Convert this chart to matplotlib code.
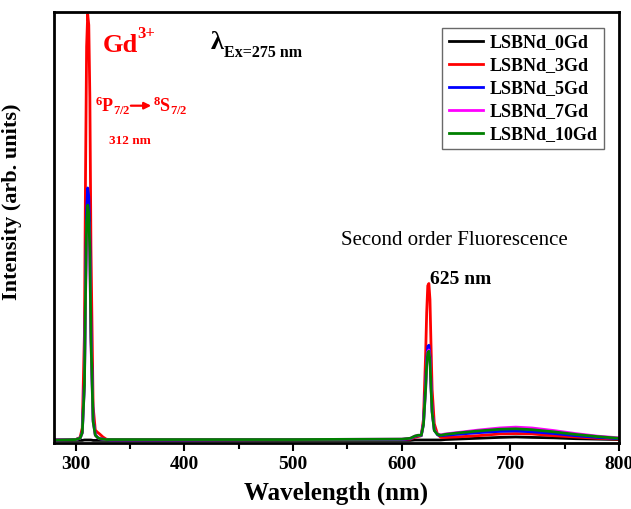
import matplotlib
matplotlib.use("Agg")
import matplotlib.pyplot as plt
from matplotlib.ticker import MultipleLocator

plt.rcParams["font.family"] = ["Liberation Serif", "DejaVu Serif"]
plt.rcParams["font.weight"] = "bold"
plt.rcParams["mathtext.fontset"] = "custom"
plt.rcParams["mathtext.rm"] = "Liberation Serif:bold"
plt.rcParams["mathtext.it"] = "Liberation Serif:bold"
plt.rcParams["mathtext.bf"] = "Liberation Serif:bold"

# wavelength grid (nm)
wavelength = [280, 300, 304, 306, 308, 309, 310, 311, 312, 313, 314, 316, 318, 320,
              322, 325, 328, 332, 400, 500, 600, 608, 612, 615, 618, 620, 622, 623,
              624, 625, 626, 627, 628, 630, 633, 636, 640, 650, 670, 690, 705, 720,
              740, 760, 780, 800]

gd0 = [0.001, 0.001, 0.001, 0.001, 0.002, 0.002, 0.002, 0.002, 0.002, 0.002, 0.002,
       0.001, 0.001, 0.001, 0.001, 0.001, 0.001, 0.001, 0.001, 0.001, 0.001, 0.001,
       0.002, 0.002, 0.002, 0.002, 0.002, 0.002, 0.002, 0.002, 0.002, 0.002, 0.002,
       0.002, 0.002, 0.002, 0.003, 0.004, 0.006, 0.008, 0.009, 0.008, 0.007, 0.005,
       0.004, 0.003]
gd3 = [0.002, 0.003, 0.008, 0.03, 0.25, 0.62, 0.92, 0.995, 0.97, 0.8, 0.45, 0.08,
       0.025, 0.02, 0.016, 0.009, 0.004, 0.002, 0.002, 0.003, 0.003, 0.004, 0.008,
       0.01, 0.012, 0.05, 0.2, 0.3, 0.362, 0.367, 0.33, 0.22, 0.12, 0.04, 0.015,
       0.008, 0.008, 0.009, 0.012, 0.016, 0.017, 0.016, 0.012, 0.009, 0.006, 0.004]
gd5 = [0.002, 0.003, 0.006, 0.02, 0.14, 0.36, 0.54, 0.59, 0.57, 0.47, 0.26, 0.05,
       0.015, 0.008, 0.005, 0.004, 0.003, 0.002, 0.002, 0.003, 0.003, 0.005, 0.01,
       0.012, 0.012, 0.04, 0.13, 0.19, 0.22, 0.223, 0.2, 0.13, 0.07, 0.025, 0.014,
       0.012, 0.013, 0.015, 0.019, 0.022, 0.023, 0.021, 0.017, 0.012, 0.008, 0.005]
gd7 = [0.003, 0.003, 0.006, 0.018, 0.13, 0.33, 0.49, 0.53, 0.51, 0.42, 0.23, 0.045,
       0.013, 0.008, 0.005, 0.004, 0.003, 0.003, 0.003, 0.003, 0.004, 0.006, 0.011,
       0.013, 0.013, 0.038, 0.12, 0.18, 0.208, 0.212, 0.19, 0.125, 0.068, 0.025,
       0.016, 0.014, 0.016, 0.019, 0.025, 0.03, 0.032, 0.03, 0.024, 0.017, 0.011,
       0.007]
gd10 = [0.002, 0.003, 0.006, 0.019, 0.13, 0.34, 0.51, 0.55, 0.53, 0.44, 0.24, 0.045,
        0.013, 0.008, 0.005, 0.004, 0.003, 0.003, 0.003, 0.003, 0.004, 0.006, 0.011,
        0.013, 0.013, 0.037, 0.12, 0.178, 0.205, 0.209, 0.188, 0.123, 0.066, 0.024,
        0.015, 0.013, 0.015, 0.018, 0.023, 0.027, 0.028, 0.026, 0.021, 0.015, 0.01,
        0.006]

labels = ["LSBNd_0Gd", "LSBNd_3Gd", "LSBNd_5Gd", "LSBNd_7Gd", "LSBNd_10Gd"]
colors = ["black", "#ff0000", "#0000ff", "#ff00ff", "#008000"]
series = [gd0, gd3, gd5, gd7, gd10]

fig = plt.figure(figsize=(6.31, 5.09), dpi=100)
ax = fig.add_axes([0.0856, 0.1297, 0.8954, 0.8463])

for y, c, lab in zip(series, colors, labels):
    ax.plot(wavelength, y, color=c, lw=2, label=lab)

ax.set_xlim(280, 800)
ax.set_ylim(-0.005, 1.0)
ax.xaxis.set_major_locator(MultipleLocator(100))
ax.xaxis.set_minor_locator(MultipleLocator(50))
ax.tick_params(axis="x", which="major", direction="out", length=6, width=1.5,
               labelsize=14)
ax.tick_params(axis="x", which="minor", direction="out", length=4, width=1.5)
ax.set_yticks([])
for s in ax.spines.values():
    s.set_linewidth(2)

ax.set_xlabel("Wavelength (nm)", fontsize=18, fontweight="bold", labelpad=6)
ax.set_ylabel("Intensity (arb. units)", fontsize=16, fontweight="bold")
ax.yaxis.set_label_coords(-0.057, 0.56)

leg = ax.legend(loc="upper right", bbox_to_anchor=(0.99, 0.985), fontsize=13,
                handlelength=1.9, borderpad=0.35, labelspacing=0.33,
                handletextpad=0.4, frameon=True, fancybox=False)
leg.get_frame().set_edgecolor("#444444")
leg.get_frame().set_linewidth(1)

# Gd3+ label
ax.text(0.087, 0.907, "Gd", transform=ax.transAxes, color="#ff0000",
        fontsize=19, fontweight="bold", va="baseline")
ax.text(0.147, 0.94, "3+", transform=ax.transAxes, color="#ff0000",
        fontsize=12, fontweight="bold", va="baseline")

# excitation wavelength
ax.text(0.277, 0.914, "λ", transform=ax.transAxes, color="black",
        fontsize=19, fontweight="bold", va="baseline")
ax.text(0.300, 0.896, "Ex=275 nm", transform=ax.transAxes, color="black",
        fontsize=11.5, fontweight="bold", va="baseline")

# 6P7/2 -> 8S7/2 transition label
ax.text(0.072, 0.768, r"$^{\mathregular{6}}$P$_{\mathregular{7/2}}$",
        transform=ax.transAxes, color="#ff0000", fontsize=13, va="baseline")
ax.annotate("", xy=(0.172, 0.783), xytext=(0.136, 0.783), xycoords="axes fraction",
            arrowprops=dict(arrowstyle="-|>", color="#ff0000", lw=1.6,
                            mutation_scale=10, shrinkA=0, shrinkB=0))
ax.text(0.176, 0.768, r"$^{\mathregular{8}}$S$_{\mathregular{7/2}}$",
        transform=ax.transAxes, color="#ff0000", fontsize=13, va="baseline")
ax.text(0.098, 0.695, "312 nm", transform=ax.transAxes, color="#ff0000",
        fontsize=9.5, fontweight="bold")

ax.text(0.508, 0.46, "Second order Fluorescence", transform=ax.transAxes,
        fontsize=15, fontweight="normal")
ax.text(0.665, 0.37, "625 nm", transform=ax.transAxes, fontsize=14,
        fontweight="bold")

fig.savefig("out.png", dpi=100)
